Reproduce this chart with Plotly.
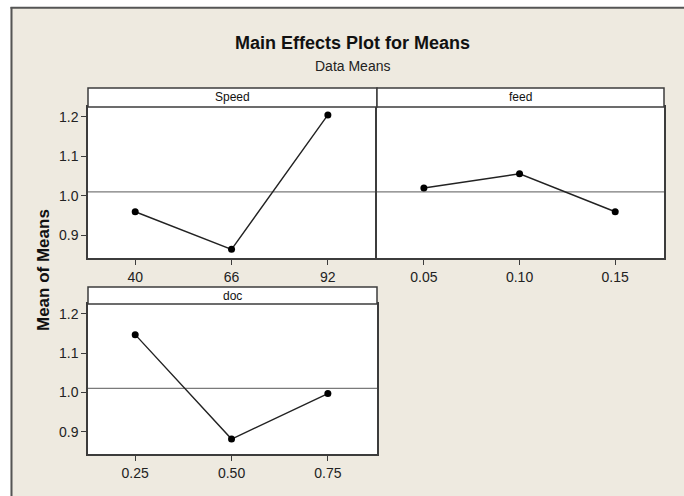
import numpy as np
import plotly.graph_objects as go

# ---- data ----
speed_levels = ["40", "66", "92"]
speed_means = [0.960, 0.865, 1.205]
feed_levels = ["0.05", "0.10", "0.15"]
feed_means = [1.020, 1.056, 0.960]
doc_levels = ["0.25", "0.50", "0.75"]
doc_means = [1.147, 0.881, 0.997]
y_ticks = [0.9, 1.0, 1.1, 1.2]

W, H = 684, 496
def px(x):
    return x / W
def py(y):
    return 1 - y / H

BG = "#EEEAE0"
EDGE = "#3c3c3c"
FONT = "Liberation Sans"

grand_mean = float(np.mean(speed_means + feed_means + doc_means))

fig = go.Figure()
panels = [
    ("x", "y", speed_levels, speed_means),
    ("x2", "y2", feed_levels, feed_means),
    ("x3", "y3", doc_levels, doc_means),
]
for xa, ya, lv, mv in panels:
    fig.add_trace(go.Scatter(
        x=lv, y=mv, xaxis=xa, yaxis=ya, mode="lines+markers",
        line=dict(color="#222222", width=1.4),
        marker=dict(color="#000000", size=7),
        showlegend=False, hoverinfo="skip"))

yr = [0.843, 1.225]
xr = [-0.49, 2.51]
common_x = dict(type="category", range=xr, showgrid=False, zeroline=False,
                showline=True, mirror=True, linecolor=EDGE, linewidth=1.5,
                ticks="outside", ticklen=5, tickcolor=EDGE, tickwidth=1,
                tickfont=dict(family=FONT, size=14, color="#222222"))
common_y = dict(range=yr, showgrid=False, zeroline=False,
                showline=True, mirror=True, linecolor=EDGE, linewidth=1.5,
                tickvals=y_ticks, ticktext=[f"{v:.1f}" for v in y_ticks],
                tickfont=dict(family=FONT, size=14, color="#222222"))

fig.update_layout(
    width=W, height=H, margin=dict(l=0, r=0, t=0, b=0),
    paper_bgcolor=BG, plot_bgcolor="white",
    xaxis=dict(common_x, domain=[px(88), px(377)], anchor="y"),
    yaxis=dict(common_y, domain=[py(258), py(107)], anchor="x", mirror=False,
               ticks="outside", ticklen=5, tickcolor=EDGE),
    xaxis2=dict(common_x, domain=[px(377), px(664)], anchor="y2"),
    yaxis2=dict(common_y, domain=[py(258), py(107)], anchor="x2",
                showticklabels=False, ticks=""),
    xaxis3=dict(common_x, domain=[px(88), px(377)], anchor="y3"),
    yaxis3=dict(common_y, domain=[py(454), py(304)], anchor="x3",
                ticks="outside", ticklen=5, tickcolor=EDGE),
)

shapes = []
# white area outside the frame
shapes.append(dict(type="rect", xref="paper", yref="paper", x0=0, x1=1, y0=py(7), y1=1,
                   fillcolor="white", line=dict(width=0), layer="below"))
shapes.append(dict(type="rect", xref="paper", yref="paper", x0=0, x1=px(10.5), y0=0, y1=1,
                   fillcolor="white", line=dict(width=0), layer="below"))
# frame lines
shapes.append(dict(type="line", xref="paper", yref="paper", x0=px(10.5), x1=1, y0=py(7.8), y1=py(7.8),
                   line=dict(color="#555555", width=2)))
shapes.append(dict(type="line", xref="paper", yref="paper", x0=px(11.5), x1=px(11.5), y0=0, y1=py(7),
                   line=dict(color="#555555", width=2)))
# reference lines
for xa, ya in [("x", "y"), ("x2", "y2"), ("x3", "y3")]:
    shapes.append(dict(type="line", xref=f"{xa} domain", yref=ya, x0=0, x1=1,
                       y0=grand_mean, y1=grand_mean, layer="below",
                       line=dict(color="#7a7a7a", width=1.2)))
# strips
strips = [(88, 377, 88, 107, "Speed"), (377, 664, 88, 107, "feed"), (88, 377, 287, 304, "doc")]
annotations = []
for x0, x1, y0, y1, lab in strips:
    shapes.append(dict(type="rect", xref="paper", yref="paper", x0=px(x0), x1=px(x1),
                       y0=py(y1), y1=py(y0), fillcolor="white",
                       line=dict(color=EDGE, width=1.5)))
    annotations.append(dict(xref="paper", yref="paper", x=px((x0 + x1) / 2), y=py((y0 + y1) / 2),
                            text=lab, showarrow=False, xanchor="center", yanchor="middle",
                            font=dict(family=FONT, size=12, color="#111111")))
fig.update_layout(shapes=shapes)

annotations.append(dict(xref="paper", yref="paper", x=px(352), y=py(43),
                        text="<b>Main Effects Plot for Means</b>", showarrow=False,
                        xanchor="center", yanchor="middle",
                        font=dict(family=FONT, size=18, color="#111111")))
annotations.append(dict(xref="paper", yref="paper", x=px(352.5), y=py(65.5),
                        text="Data Means", showarrow=False,
                        xanchor="center", yanchor="middle",
                        font=dict(family=FONT, size=14, color="#222222")))
annotations.append(dict(xref="paper", yref="paper", x=px(43), y=py(270),
                        text="<b>Mean of Means</b>", showarrow=False, textangle=-90,
                        xanchor="center", yanchor="middle",
                        font=dict(family=FONT, size=17, color="#111111")))
fig.update_layout(annotations=annotations)

fig.write_html("out.html",
               config={"displayModeBar": False},
               post_script="document.body.style.margin='0';"
                           "document.documentElement.style.overflow='hidden';")
